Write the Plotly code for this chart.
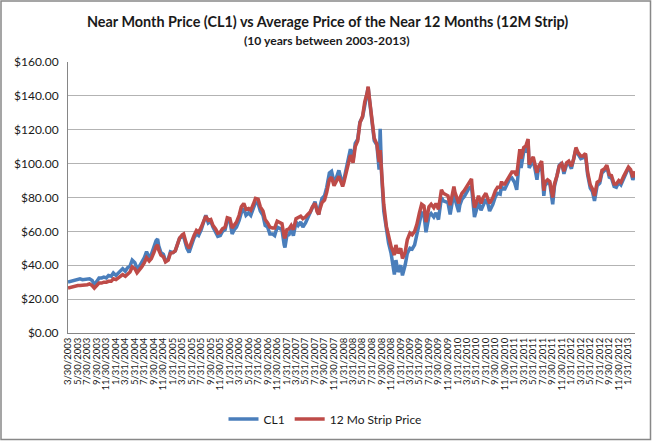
import plotly.graph_objects as go

# ---- data (semi-monthly readings from the chart) ----
dates = [
    "2003-03-30", "2003-04-15", "2003-05-01", "2003-05-15", "2003-06-01", "2003-06-15",
    "2003-07-01", "2003-07-15", "2003-08-01", "2003-08-15", "2003-09-01", "2003-09-15",
    "2003-10-01", "2003-10-15", "2003-11-01", "2003-11-15", "2003-12-01", "2003-12-15",
    "2004-01-01", "2004-01-15", "2004-02-01", "2004-02-15", "2004-03-01", "2004-03-15",
    "2004-04-01", "2004-04-15", "2004-05-01", "2004-05-15", "2004-06-01", "2004-06-15",
    "2004-07-01", "2004-07-15", "2004-08-01", "2004-08-15", "2004-09-01", "2004-09-15",
    "2004-10-01", "2004-10-15", "2004-10-25", "2004-11-01", "2004-11-15", "2004-12-01", "2004-12-15",
    "2005-01-01", "2005-01-15", "2005-02-01", "2005-02-15", "2005-03-01", "2005-03-15",
    "2005-04-01", "2005-04-10", "2005-04-25", "2005-05-01", "2005-05-15", "2005-06-01", "2005-06-15",
    "2005-07-01", "2005-07-15", "2005-08-01", "2005-08-15", "2005-08-30", "2005-09-15",
    "2005-10-01", "2005-10-15", "2005-11-01", "2005-11-15", "2005-12-01", "2005-12-15",
    "2006-01-01", "2006-01-15", "2006-02-01", "2006-02-15", "2006-03-01", "2006-03-15",
    "2006-04-01", "2006-04-15", "2006-05-01", "2006-05-15", "2006-06-01", "2006-06-15",
    "2006-07-01", "2006-07-15", "2006-08-01", "2006-08-15", "2006-09-01", "2006-09-15",
    "2006-10-01", "2006-10-15", "2006-11-01", "2006-11-15", "2006-12-01", "2006-12-15",
    "2007-01-01", "2007-01-15", "2007-01-20", "2007-02-01", "2007-02-15", "2007-03-01", "2007-03-15",
    "2007-04-01", "2007-04-15", "2007-05-01", "2007-05-15", "2007-06-01", "2007-06-15",
    "2007-07-01", "2007-07-15", "2007-08-01", "2007-08-15", "2007-08-25", "2007-09-01", "2007-09-15",
    "2007-10-01", "2007-10-15", "2007-11-01", "2007-11-15", "2007-12-01", "2007-12-15",
    "2008-01-01", "2008-01-15", "2008-01-25", "2008-02-01", "2008-02-15", "2008-03-01", "2008-03-15",
    "2008-04-01", "2008-04-15", "2008-05-01", "2008-05-15", "2008-06-01", "2008-06-15",
    "2008-07-01", "2008-07-07", "2008-07-15", "2008-08-01", "2008-08-15", "2008-09-01", "2008-09-15",
    "2008-09-22", "2008-10-01", "2008-10-15", "2008-11-01", "2008-11-15", "2008-12-01", "2008-12-15",
    "2008-12-22",
    "2009-01-01", "2009-01-15", "2009-02-01", "2009-02-12", "2009-03-01", "2009-03-15",
    "2009-04-01", "2009-04-15", "2009-05-01", "2009-05-15", "2009-06-01", "2009-06-15",
    "2009-06-30", "2009-07-13", "2009-08-01", "2009-08-15", "2009-09-01", "2009-09-15",
    "2009-10-01", "2009-10-20", "2009-11-01", "2009-11-15", "2009-12-01", "2009-12-15",
    "2010-01-01", "2010-01-08", "2010-01-15", "2010-02-01", "2010-02-08", "2010-02-15",
    "2010-03-01", "2010-03-15", "2010-04-01", "2010-04-15", "2010-05-01", "2010-05-05",
    "2010-05-20", "2010-06-01", "2010-06-15", "2010-07-01", "2010-07-15", "2010-08-01",
    "2010-08-15", "2010-08-25", "2010-09-15", "2010-10-01", "2010-10-15", "2010-11-01",
    "2010-11-10", "2010-11-15", "2010-12-01", "2010-12-15",
    "2011-01-01", "2011-01-15", "2011-02-01", "2011-02-15", "2011-03-01", "2011-03-07",
    "2011-03-15", "2011-04-01", "2011-04-15", "2011-04-29", "2011-05-06", "2011-05-15",
    "2011-06-01", "2011-06-15", "2011-06-25", "2011-07-01", "2011-07-15", "2011-07-25",
    "2011-08-08", "2011-08-15", "2011-09-01", "2011-09-15", "2011-10-04", "2011-10-15",
    "2011-11-01", "2011-11-15", "2011-12-01", "2011-12-15",
    "2012-01-01", "2012-01-15", "2012-02-01", "2012-02-15", "2012-03-01", "2012-03-15",
    "2012-04-01", "2012-04-15", "2012-05-01", "2012-05-15", "2012-06-01", "2012-06-15",
    "2012-06-28", "2012-07-15", "2012-08-01", "2012-08-15", "2012-09-01", "2012-09-15",
    "2012-10-01", "2012-10-15", "2012-11-01", "2012-11-15", "2012-12-01", "2012-12-15",
    "2013-01-01", "2013-01-15", "2013-02-01", "2013-02-15", "2013-03-01", "2013-03-15",
]

cl1 = [
    30.0, 30.5, 30.5, 31.0, 31.5, 32.0,
    31.5, 31.5, 32.0, 32.0, 31.0, 28.5,
    30.5, 32.5, 32.5, 33.0, 32.5, 34.0,
    33.5, 35.5, 34.0, 35.5, 37.0, 38.0,
    36.5, 38.5, 39.5, 43.0, 41.5, 38.0,
    39.5, 41.5, 44.5, 48.0, 44.5, 46.5,
    50.5, 54.5, 55.5, 51.5, 47.5, 46.5, 42.5,
    43.5, 48.0, 47.5, 48.5, 53.0, 56.0,
    57.0, 57.0, 52.0, 50.0, 47.5, 53.0, 56.0,
    58.5, 57.5, 61.0, 65.0, 69.5, 65.0,
    66.0, 62.5, 59.5, 57.0, 57.5, 60.0,
    61.0, 66.5, 66.0, 58.5, 61.0, 62.5,
    66.5, 71.0, 73.5, 69.5, 71.0, 69.5,
    73.5, 77.0, 76.5, 72.0, 69.5, 63.5,
    62.5, 58.5, 58.5, 57.5, 62.5, 62.0,
    61.0, 52.0, 50.5, 57.5, 58.0, 61.5, 57.5,
    65.5, 63.5, 65.5, 62.5, 65.0, 68.0,
    70.5, 74.0, 77.5, 72.0, 70.0, 74.5, 79.5,
    81.0, 86.0, 94.5, 95.5, 89.0, 91.5,
    96.0, 91.0, 87.5, 90.0, 96.0, 101.5, 108.5,
    102.0, 112.0, 114.5, 124.5, 127.5, 135.0,
    141.5, 145.0, 138.0, 124.5, 113.5, 111.0, 96.5,
    120.5, 94.0, 72.0, 60.0, 53.0, 47.0, 38.0,
    34.5,
    43.0, 36.0, 40.0, 34.0, 40.0, 47.0,
    50.0, 49.5, 52.0, 58.0, 66.0, 71.0,
    70.0, 59.5, 69.0, 70.5, 68.5, 71.0,
    67.0, 80.0, 78.0, 77.5, 77.0, 70.0,
    79.5, 83.0, 79.0, 73.0, 71.5, 75.5,
    79.0, 80.5, 83.5, 85.5, 86.5, 82.0,
    68.5, 72.5, 77.0, 72.5, 76.0, 79.0,
    76.0, 72.0, 76.0, 80.5, 82.5, 82.0,
    87.0, 85.0, 85.0, 88.0,
    91.0, 91.5, 89.0, 84.5, 99.0, 105.0,
    97.5, 107.0, 107.5, 113.5, 97.5, 99.5,
    102.0, 95.5, 90.5, 95.0, 97.5, 99.5,
    81.0, 87.0, 89.0, 88.5, 76.0, 86.5,
    93.0, 99.0, 100.5, 94.0,
    99.5, 100.5, 97.0, 102.0, 108.5, 105.5,
    103.0, 103.5, 105.5, 93.5, 85.5, 83.5,
    78.0, 87.0, 88.5, 94.5, 96.0, 98.5,
    92.0, 91.5, 86.5, 86.0, 89.0, 87.5,
    91.5, 94.0, 97.5, 95.5, 90.5, 93.0,
]

strip = [
    26.5, 27.0, 27.0, 27.5, 28.0, 28.0,
    28.0, 28.5, 28.5, 29.0, 28.0, 26.5,
    28.0, 29.5, 29.5, 30.0, 30.0, 30.5,
    30.5, 32.0, 31.5, 32.5, 33.5, 34.5,
    33.5, 35.0, 36.0, 39.0, 38.0, 35.5,
    37.0, 39.0, 41.5, 44.5, 42.5, 44.0,
    47.5, 51.0, 52.0, 49.0, 46.0, 45.0, 42.0,
    43.0, 47.0, 47.5, 48.5, 53.0, 56.0,
    58.0, 58.5, 53.5, 52.0, 50.0, 54.5, 57.5,
    60.5, 59.5, 62.5, 66.0, 69.0, 66.5,
    67.0, 63.5, 61.5, 59.0, 59.5, 61.5,
    62.5, 68.0, 67.5, 62.0, 64.0, 65.5,
    69.5, 74.5, 76.5, 73.0, 73.5, 72.5,
    76.0, 79.5, 79.0, 74.5, 72.0, 67.0,
    65.0, 62.5, 62.0, 62.0, 66.0, 65.5,
    64.5, 57.0, 56.0, 61.0, 61.5, 63.5, 61.0,
    67.5, 68.0, 69.0, 67.5, 68.5, 70.0,
    71.5, 74.5, 76.5, 71.5, 70.0, 73.0, 77.0,
    78.5, 83.0, 90.5, 92.0, 87.0, 89.5,
    92.5, 89.0, 86.5, 88.5, 93.5, 99.5, 105.0,
    100.5, 110.0, 113.5, 124.0, 128.0, 136.5,
    142.0, 145.5, 138.5, 124.0, 115.0, 111.5, 101.0,
    108.0, 95.0, 76.0, 63.0, 57.0, 51.0, 48.0,
    46.0,
    52.0, 47.0, 50.0, 44.0, 47.5, 55.0,
    59.0, 58.0, 60.0, 64.0, 71.0, 76.0,
    75.0, 65.5, 74.5, 76.0, 74.0, 76.5,
    73.0, 84.5, 82.5, 82.0, 81.0, 75.5,
    83.5, 86.5, 83.0, 77.5, 76.5, 79.5,
    82.5, 84.0, 86.5, 89.5, 91.0, 86.0,
    74.0, 77.0, 81.0, 76.5, 80.0, 82.5,
    79.5, 76.5, 80.0, 84.0, 86.0, 86.0,
    89.5, 88.0, 88.0, 90.5,
    93.5, 95.0, 95.0, 93.0, 104.0, 108.5,
    103.0, 109.5, 110.5, 114.5, 99.5, 101.5,
    104.0, 98.5, 94.5, 97.5, 100.5, 101.5,
    84.0, 89.0, 90.5, 89.5, 80.0, 88.0,
    93.0, 98.5, 100.0, 95.5,
    100.5, 101.5, 98.5, 102.5, 109.5, 106.5,
    104.5, 104.5, 106.0, 95.0, 87.5, 85.0,
    81.0, 89.0, 90.0, 96.0, 97.0, 99.0,
    93.5, 93.0, 88.0, 88.0, 90.0, 89.0,
    92.5, 95.5, 98.0, 96.5, 92.0, 95.5,
]

tick_labels = [
    "3/30/2003", "5/30/2003", "7/30/2003", "9/30/2003", "11/30/2003",
    "1/31/2004", "3/31/2004", "5/31/2004", "7/31/2004", "9/30/2004", "11/30/2004",
    "1/31/2005", "3/31/2005", "5/31/2005", "7/31/2005", "9/30/2005", "11/30/2005",
    "1/31/2006", "3/31/2006", "5/31/2006", "7/31/2006", "9/30/2006", "11/30/2006",
    "1/31/2007", "3/31/2007", "5/31/2007", "7/31/2007", "9/30/2007", "11/30/2007",
    "1/31/2008", "3/31/2008", "5/31/2008", "7/31/2008", "9/30/2008", "11/30/2008",
    "1/31/2009", "3/31/2009", "5/31/2009", "7/31/2009", "9/30/2009", "11/30/2009",
    "1/31/2010", "3/31/2010", "5/31/2010", "7/31/2010", "9/30/2010", "11/30/2010",
    "1/31/2011", "3/31/2011", "5/31/2011", "7/31/2011", "9/30/2011", "11/30/2011",
    "1/31/2012", "3/31/2012", "5/31/2012", "7/31/2012", "9/30/2012", "11/30/2012",
    "1/31/2013",
]

series_names = ["CL1", "12 Mo Strip Price"]
series_colors = ["#4A7EBB", "#BE4B48"]

title_text = "Near Month Price (CL1) vs Average Price of the Near 12 Months (12M Strip)"
subtitle_text = "(10 years between 2003-2013)"


def label_to_iso(s):
    m, d, y = s.split("/")
    return f"{int(y):04d}-{int(m):02d}-{int(d):02d}"


tick_vals = [label_to_iso(s) for s in tick_labels]

# ---- geometry ----
W, H = 652, 441
L, R, T, B = 68, 17, 62, 108
PW = W - L - R
PH = H - T - B


def px_x(x):
    return (x - L) / PW


def px_y(y):
    return (H - B - y) / PH


FONT = "Lato"
TXT = "#1a1a1a"

fig = go.Figure()
for name, vals, col in zip(series_names, [cl1, strip], series_colors):
    fig.add_trace(go.Scatter(
        x=dates, y=vals, name=name, mode="lines",
        line=dict(color=col, width=3.5),
    ))

fig.update_layout(
    width=W, height=H,
    margin=dict(l=L, r=R, t=T, b=B, autoexpand=False),
    paper_bgcolor="white", plot_bgcolor="white",
    font=dict(family=FONT, color=TXT),
    showlegend=True,
    hovermode=False,
    legend=dict(
        orientation="h", x=px_x(325), xanchor="center",
        y=px_y(419), yanchor="middle",
        font=dict(family=FONT, size=12, color=TXT),
        itemwidth=30, tracegroupgap=0,
    ),
    xaxis=dict(
        type="date",
        range=["2003-03-30", "2013-03-15"],
        tickmode="array", tickvals=tick_vals, ticktext=tick_labels,
        tickangle=-90,
        tickfont=dict(family=FONT, size=9.5, color=TXT),
        showgrid=False, zeroline=False,
        showline=True, linecolor="#868686", linewidth=1,
        ticks="", automargin=False,
    ),
    yaxis=dict(
        range=[0, 160], tick0=0, dtick=20,
        tickprefix="$", tickformat=".2f",
        tickfont=dict(family=FONT, size=12, color=TXT),
        showgrid=True, gridcolor="#B3B3B3", gridwidth=1,
        zeroline=False,
        showline=True, linecolor="#868686", linewidth=1,
        ticks="", ticklabelstandoff=6, automargin=False,
    ),
)

fig.add_annotation(
    text=f"<b>{title_text}</b>", xref="paper", yref="paper",
    x=px_x(327), y=px_y(21), xanchor="center", yanchor="middle",
    showarrow=False, font=dict(family=FONT, size=14.4, color=TXT),
)
fig.add_annotation(
    text=f"<b>{subtitle_text}</b>", xref="paper", yref="paper",
    x=px_x(327), y=px_y(40), xanchor="center", yanchor="middle",
    showarrow=False, font=dict(family=FONT, size=12.1, color=TXT),
)

# chart-area border
fig.add_shape(
    type="rect", xref="paper", yref="paper",
    x0=px_x(1), x1=px_x(650.5), y0=px_y(439.5), y1=px_y(1),
    line=dict(color="#888888", width=1.5), layer="above",
)

fig.write_html(
    "out.html",
    config={"displayModeBar": False, "staticPlot": True},
    post_script="document.body.style.margin='0px';",
)
